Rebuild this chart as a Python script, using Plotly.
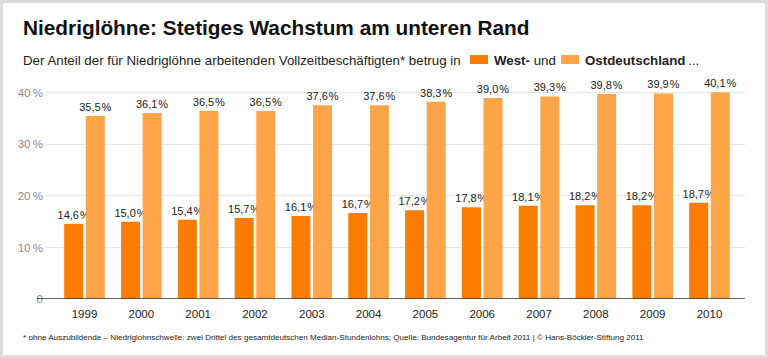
import plotly.graph_objects as go

years = ["1999", "2000", "2001", "2002", "2003", "2004", "2005", "2006", "2007", "2008", "2009", "2010"]
west = [14.6, 15.0, 15.4, 15.7, 16.1, 16.7, 17.2, 17.8, 18.1, 18.2, 18.2, 18.7]
ost = [35.5, 36.1, 36.5, 36.5, 37.6, 37.6, 38.3, 39.0, 39.3, 39.8, 39.9, 40.1]
y_ticks = [0, 10, 20, 30, 40]
y_ticktext = ["0", "10\u2009%", "20\u2009%", "30\u2009%", "40\u2009%"]

W, H = 768, 358
ML, MR, MT, MB = 46, 23, 80, 59
PW, PH = W - ML - MR, H - MT - MB

def px(x):
    return (x - ML) / PW

def py(y):
    return (H - MB - y) / PH

def lab(v):
    return f"{v:.1f}".replace(".", ",") + "\u200a%"

C_WEST = "#FA7D00"
C_OST = "#FDA548"
FONT = "Liberation Sans"

fig = go.Figure()
fig.add_trace(go.Bar(x=years, y=west, name="West", marker=dict(color=C_WEST, line=dict(width=0)),
                     text=[lab(v) for v in west], textposition="outside", constraintext="none",
                     textfont=dict(size=11, color="#222222", family=FONT), cliponaxis=False))
fig.add_trace(go.Bar(x=years, y=ost, name="Ost", marker=dict(color=C_OST, line=dict(width=0)),
                     text=[lab(v) for v in ost], textposition="outside", constraintext="none",
                     textfont=dict(size=11, color="#222222", family=FONT), cliponaxis=False))

shapes = [
    dict(type="rect", xref="paper", yref="paper", x0=px(1.5), x1=px(W - 1.5), y0=py(H - 1.5), y1=py(1.5),
         line=dict(color="#DCDCDC", width=3), fillcolor="rgba(0,0,0,0)", layer="above"),
    dict(type="line", xref="paper", yref="y", x0=px(37), x1=1, y0=0, y1=0,
         line=dict(color="#333333", width=1.5), layer="above"),
    dict(type="rect", xref="paper", yref="paper", x0=px(470), x1=px(488), y0=py(64), y1=py(55),
         fillcolor=C_WEST, line=dict(width=0)),
    dict(type="rect", xref="paper", yref="paper", x0=px(561), x1=px(579), y0=py(64), y1=py(55),
         fillcolor=C_OST, line=dict(width=0)),
]

annotations = [
    dict(text="<b>Niedriglöhne: Stetiges Wachstum am unteren Rand</b>", x=px(21), y=py(27),
         xref="paper", yref="paper", xanchor="left", yanchor="middle", showarrow=False,
         font=dict(size=20.8, color="#111111", family=FONT)),
    dict(text="Der Anteil der für Niedriglöhne arbeitenden Vollzeitbeschäftigten* betrug in",
         x=px(21), y=py(60), xref="paper", yref="paper", xanchor="left", yanchor="middle",
         showarrow=False, font=dict(size=13.3, color="#222222", family=FONT)),
    dict(text="<b>West-</b> und", x=px(492), y=py(60), xref="paper", yref="paper",
         xanchor="left", yanchor="middle", showarrow=False,
         font=dict(size=13.3, color="#222222", family=FONT)),
    dict(text="<b>Ostdeutschland</b>\u2009...", x=px(583), y=py(60), xref="paper", yref="paper",
         xanchor="left", yanchor="middle", showarrow=False,
         font=dict(size=13.3, color="#222222", family=FONT)),
    dict(text="* ohne Auszubildende – Niedriglohnschwelle: zwei Drittel des gesamtdeutschen Median-Stundenlohns; "
              "Quelle: Bundesagentur für Arbeit 2011 | © Hans-Böckler-Stiftung 2011",
         x=px(21), y=py(337), xref="paper", yref="paper", xanchor="left", yanchor="middle",
         showarrow=False, font=dict(size=8.1, color="#222222", family=FONT)),
]

fig.update_layout(
    width=W, height=H,
    margin=dict(l=ML, r=MR, t=MT, b=MB, pad=0),
    paper_bgcolor="white", plot_bgcolor="white",
    barmode="group", bargap=0.24, bargroupgap=0.12,
    showlegend=False,
    shapes=shapes, annotations=annotations,
    xaxis=dict(type="category", range=[-0.678, 11.625], showgrid=False, zeroline=False,
               showline=False, ticks="", ticklabelstandoff=6,
               tickfont=dict(size=11.5, color="#222222", family=FONT)),
    yaxis=dict(range=[0, 42.5], tickvals=y_ticks, ticktext=y_ticktext, showgrid=True,
               gridcolor="#E6E6E6", gridwidth=1, zeroline=False, showline=False, ticks="",
               ticklabelstandoff=2,
               tickfont=dict(size=11.5, color="#8A8A8A", family=FONT)),
)

fig.write_html("out.html", config={"displayModeBar": False},
               post_script="document.body.style.margin='0';document.body.style.overflow='hidden';")
